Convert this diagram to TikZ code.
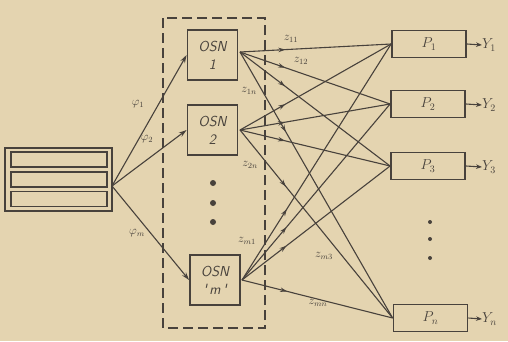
\documentclass[tikz,border=0pt]{standalone}
\usetikzlibrary{decorations.markings,arrows.meta}
\definecolor{paper}{RGB}{228,212,176}
\definecolor{ink}{RGB}{72,66,60}
\begin{document}
\begin{tikzpicture}[x=1pt,y=-1pt,
  ink line/.style={draw=ink,line width=1.1pt},
  osnbox/.style={draw=ink,line width=1.8pt,minimum width=50pt,minimum height=50pt,inner sep=0pt,align=center,font=\sffamily\itshape\Large,text=ink},
  pbox/.style={draw=ink,line width=1.8pt,minimum width=74pt,minimum height=27pt,inner sep=0pt,font=\Large,text=ink},
  inbox/.style={draw=ink,line width=1.3pt,minimum width=96pt,minimum height=15pt,inner sep=0pt},
  midarrow/.style={ink line,postaction={decorate},decoration={markings,mark=at position #1 with {\arrow{Stealth[length=7pt,width=4.5pt]}}}},
  lab/.style={text=ink,font=\large,inner sep=0.5pt},
  ylab/.style={text=ink,font=\Large,anchor=west,inner sep=0pt},
  dot/.style={circle,fill=ink,inner sep=0pt,minimum size=#1}
]
\useasboundingbox (0,0) rectangle (508,341);
\fill[paper] (0,0) rectangle (508,341);

% dashed frame
\draw[ink line,line width=1.2pt,dash pattern=on 10pt off 5pt] (163,18) rectangle (265,328);

% input block
\node[draw=ink,line width=1.6pt,minimum width=107pt,minimum height=63pt,inner sep=0pt] (in) at (58.5,179.5) {};
\node[inbox] (in1) at (59,159.5) {};
\node[inbox] (in2) at (59,179.5) {};
\node[inbox] (in3) at (59,199) {};

% OSN boxes
\node[osnbox] (o1) at (212.5,55) {OSN\\1};
\node[osnbox] (o2) at (212.5,130) {OSN\\2};
\node[osnbox] (om) at (215,280) {OSN\\\textquotesingle\,m\,\textquotesingle};
\node[dot=6pt] (d1) at (213,183) {};
\node[dot=6pt] (d2) at (213,203) {};
\node[dot=6pt] (d3) at (213,222) {};

% P boxes
\node[pbox] (p1) at (429,44) {$P_1$};
\node[pbox] (p2) at (428,104) {$P_2$};
\node[pbox] (p3) at (428,166) {$P_3$};
\node[pbox] (pn) at (430.5,318) {$P_n$};
\node[dot=4pt] (e1) at (430,222) {};
\node[dot=4pt] (e2) at (430,239) {};
\node[dot=4pt] (e3) at (430,258) {};

% outputs
\node[ylab] (y1) at (482,45) {$Y_1$};
\node[ylab] (y2) at (482,105) {$Y_2$};
\node[ylab] (y3) at (482,167) {$Y_3$};
\node[ylab] (yn) at (482,319) {$Y_n$};
\foreach \p/\y in {p1/y1,p2/y2,p3/y3,pn/yn}
  \draw[ink line,-{Stealth[length=6pt,width=4.5pt]}] (\p.east) -- (\y.west);

% input connectors
\coordinate (src) at (112,186);
\draw[ink line,-{Stealth[length=8pt,width=5pt]}] (src) -- (o1.west);
\draw[ink line,-{Stealth[length=8pt,width=5pt]}] (src) -- (o2.west);
\draw[ink line,-{Stealth[length=8pt,width=5pt]}] (src) -- (om.west);
\node[lab] (f1) at (138,104) {$\varphi_1$};
\node[lab] (f2) at (147,139) {$\varphi_2$};
\node[lab] (fm) at (137,233) {$\varphi_m$};

% OSN -> P connectors
\coordinate (s1) at (240,52);
\coordinate (s2) at (240,130);
\coordinate (sm) at (242,280);
\foreach \s in {s1,s2,sm}
  \foreach \p in {p1,p2,p3,pn}
    \draw[midarrow=0.3] (\s) -- (\p.west);

% labels
\node[lab] (z11) at (291,39) {$z_{11}$};
\node[lab] (z12) at (301,61) {$z_{12}$};
\node[lab] (z1n) at (249,91) {$z_{1n}$};
\node[lab] (z2n) at (250,165) {$z_{2n}$};
\node[lab] (zm1) at (247,241) {$z_{m1}$};
\node[lab] (zm3) at (324,256) {$z_{m3}$};
\node[lab] (zmn) at (318,303) {$z_{mn}$};
\end{tikzpicture}
\end{document}
